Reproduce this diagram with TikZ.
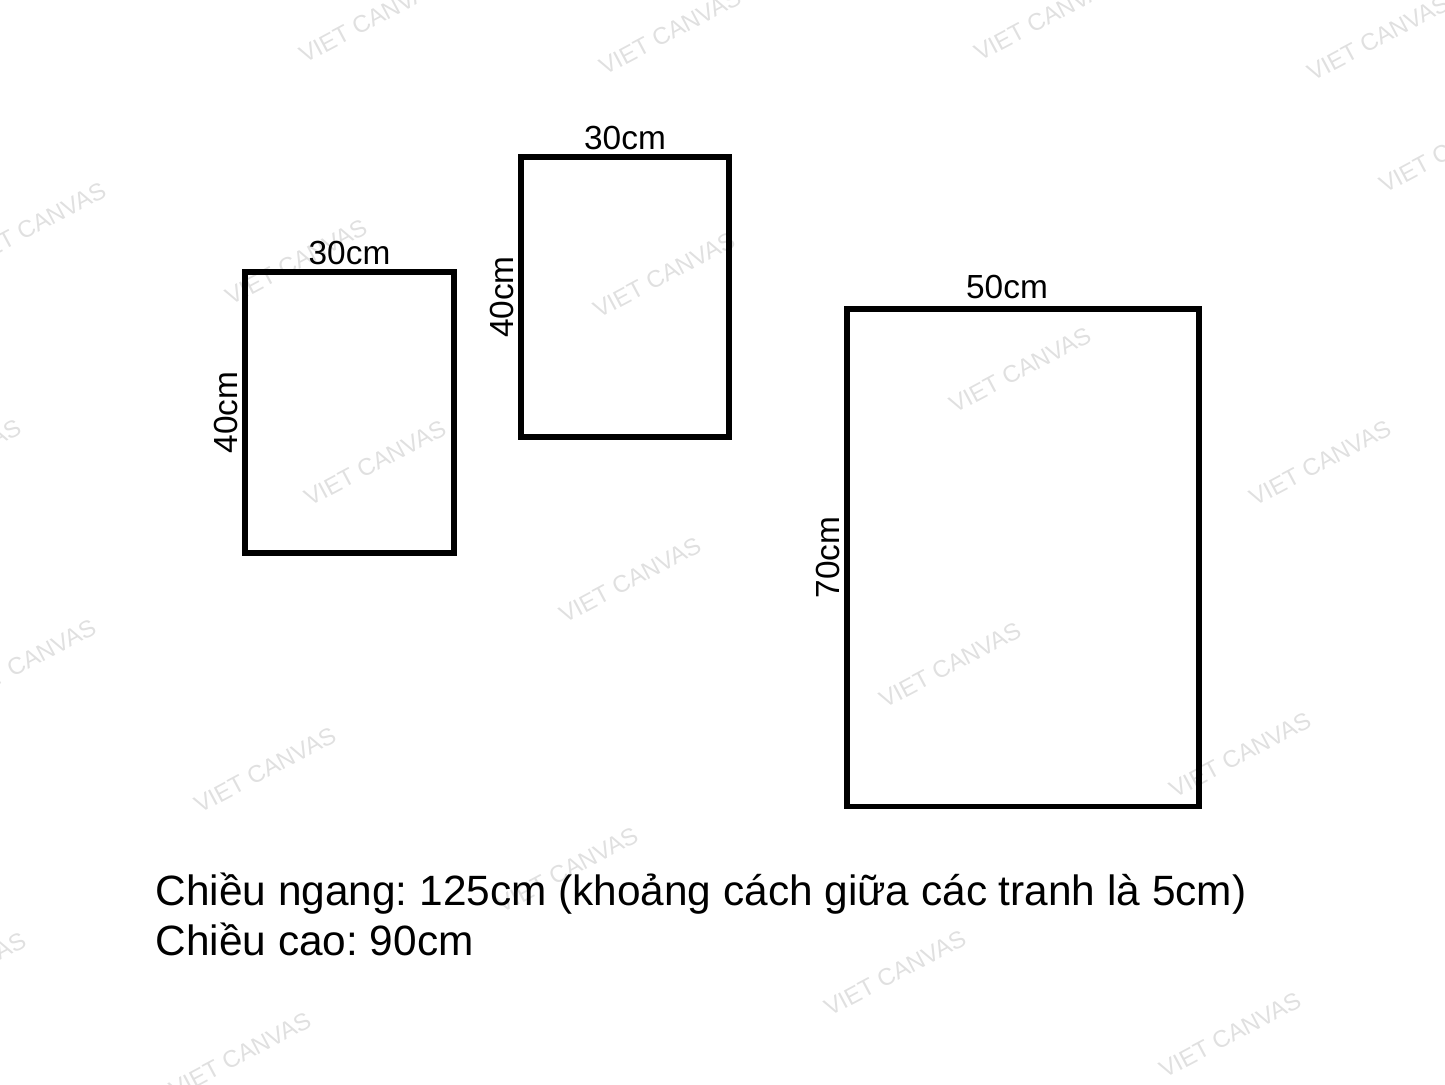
\documentclass[tikz,border=0pt]{standalone}
\usepackage{fontspec}
\setmainfont{Liberation Sans}
\frenchspacing
\usetikzlibrary{positioning}

\begin{document}
\begin{tikzpicture}[x=0.01cm, y=-0.01cm, node distance=0pt,
    frame/.style = {draw, line width=1.5pt, inner sep=0pt},
    size/.style = {font=\fontsize{9.5}{11}\selectfont, inner sep=1pt},
    note/.style = {font=\fontsize{12.05}{14}\selectfont, anchor=base west, inner sep=0pt},
    wm/.style = {font=\fontsize{6.8}{8}\selectfont, text=black!12, rotate=28}]
    \useasboundingbox (0,0) rectangle (1445,1084);
    % watermark
    \foreach \x/\y [count=\i] in {370/20, 670/32, 1045/18, 1378/38, 35/225, 1450/150,
        296/262, 375/463, 664/275, 1020/370, 1320/463, -50/462, 630/580, 25/662,
        950/665, 265/770, 1240/755, 567/870, -45/975, 895/973, 240/1055, 1230/1035}
        \node[wm] (wm\i) at (\x,\y) {VIET CANVAS};
    % frames
    \node[frame, minimum width=2.09cm, minimum height=2.81cm] (p1) at (349.5,412.5) {};
    \node[frame, minimum width=2.08cm, minimum height=2.80cm] (p2) at (625,297) {};
    \node[frame, minimum width=3.52cm, minimum height=4.97cm] (p3) at (1023,557.5) {};
    % sizes
    \node[size, above=of p1] (w1) {30cm};
    \node[size, rotate=90, anchor=south] (h1) at (p1.west) {40cm};
    \node[size, above=of p2] (w2) {30cm};
    \node[size, rotate=90, anchor=south] (h2) at (p2.west) {40cm};
    \node[size, above=of p3, xshift=-0.16cm, yshift=0.03cm] (w3) {50cm};
    \node[size, rotate=90, anchor=south] (h3) at (p3.west) {70cm};
    % notes
    \node[note] (total) at (155,905) {Chiều ngang: 125cm (khoảng cách giữa các tranh là 5cm)};
    \node[note] (high) at (155,955) {Chiều cao: 90cm};
\end{tikzpicture}
\end{document}
